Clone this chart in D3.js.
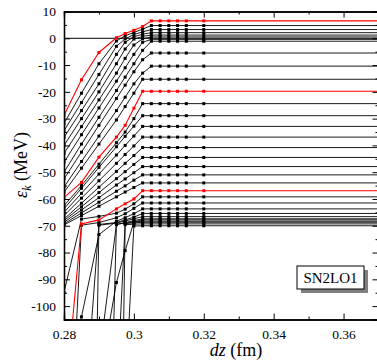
<!DOCTYPE html>
<html><head><meta charset="utf-8">
<script src="https://cdn.jsdelivr.net/npm/d3@7"></script>
<style>body{margin:0;background:#fff}svg{display:block}</style>
</head><body>
<svg id="chart" width="377" height="362"></svg>
<script>
// dz grid (fm); last column lies outside the visible window (lines continue flat)
const dzValues = [0.28,0.285,0.29,0.295,0.2975,0.30,0.3025,0.305,0.3075,0.31,0.3125,0.315,0.32,0.40];
const markerCount = 13; // markers drawn for the first 13 columns

// Group A: levels reaching their plateau at dz = 0.305 (values before plateau, then plateau)
const riseA = [
  [-28.8,-15.5,-5.3,0.2,1.8,3.0,4.4],
  [-31.8,-20.5,-9.5,-1.0,0.9,2.2,3.4],
  [-34.5,-24.0,-13.5,-3.0,-0.2,1.4,2.4],
  [-37.0,-27.0,-17.0,-6.0,-1.5,0.6,1.5],
  [-40.0,-30.0,-20.0,-9.5,-4.0,-0.3,0.7],
  [-43.0,-33.0,-23.0,-13.0,-7.5,-2.5,-0.2],
  [-46.3,-36.0,-26.0,-16.0,-11.0,-6.0,-1.5],
  [-50.0,-39.5,-29.5,-19.5,-14.5,-9.5,-4.5],
  [-52.5,-42.5,-32.5,-22.5,-17.5,-12.5,-8.0],
  [-55.5,-46.0,-36.5,-27.0,-22.0,-17.0,-13.0],
  [-57.5,-48.5,-39.5,-30.5,-25.5,-20.5]
];
const plateauA = [6.5,4.75,3.25,2.1,1.2,0.5,-0.4,-1.1,-5.5,-10.4,-15.3];
const redA = [true,false,false,false,false,false,false,false,false,false,false];

// Group B: levels fanning out of the -60..-70 MeV bundle
const riseB = [
  [-59.4,-53.8,-44.4,-36.9,-32.5,-26.1],
  [-62.5,-55.0,-47.0,-39.0,-35.0,-30.0],
  [-63.7,-56.0,-48.2,-40.5,-36.6,-32.8],
  [-65.0,-57.9,-50.7,-43.6,-40.0,-36.5],
  [-66.2,-59.7,-53.2,-46.7,-43.4,-40.2],
  [-67.5,-61.6,-55.6,-49.7,-46.7,-43.8],
  [-68.1,-62.9,-57.6,-52.4,-49.8,-47.1],
  [-68.7,-64.1,-59.5,-54.8,-52.5,-50.2],
  [-69.3,-65.2,-61.2,-57.1,-55.1,-53.0],
  [-69.7,-66.2,-62.7,-59.2,-57.4,-55.7]
];
const plateauB = [-19.8,-24.4,-28.9,-32.9,-36.9,-40.8,-44.5,-47.9,-51.0,-54.0];
const redB = [true,false,false,false,false,false,false,false,false,false];

// Group C: deep levels coming up steeply from below
const riseC = [
  [-140,-69.3,-67.8,-63.7,-61.8,-60.0],
  [-94.9,-67.5,-66.5,-65.3,-63.8,-61.8],
  [-199,-69.8,-68.8,-67.0,-65.5,-63.5],
  [-135,-104,-73.3,-68.3,-67.0,-65.5],
  [-250,-156,-69.5,-68.8,-67.8,-66.8],
  [-600,-450,-69.8,-69.0,-68.2,-67.4],
  [-250,-190,-120,-69.6,-68.8,-68.1],
  [-250,-190,-129,-91.2,-79.3,-68.6],
  [-500,-400,-312,-69.4,-69.0,-68.6],
  [-400,-300,-200,-135.5,-69.2,-68.9],
  [-600,-500,-400,-283,-69.6,-69.4],
  [-500,-400,-300,-200,-134,-70.1]
];
const plateauC = [-56.9,-59.2,-61.5,-63.7,-65.4,-66.6,-67.4,-67.8,-68.3,-68.7,-69.3,-70.0];
const redC = [true,false,false,false,false,false,false,false,false,false,false,false];

const yMajorTicks = [10,0,-10,-20,-30,-40,-50,-60,-70,-80,-90,-100];
const yMinorTicks = [5,-5,-15,-25,-35,-45,-55,-65,-75,-85,-95,-105];
const xMajorTicks = [0.28,0.30,0.32,0.34,0.36];
const xMinorTicks = [0.29,0.31,0.33,0.35,0.37];
const legendLabel = "SN2LO1";

// ---- build series
function build(rises, plateaus, reds){
  return rises.map((r,i)=>{
    const vals = r.slice();
    while(vals.length < dzValues.length) vals.push(plateaus[i]);
    return {red: reds[i], pts: vals.map((v,j)=>({x:dzValues[j], y:v, j}))};
  });
}
const series = [].concat(build(riseA,plateauA,redA), build(riseB,plateauB,redB), build(riseC,plateauC,redC));

const svg = d3.select("#chart");
const L = 64, R = 378.5, T = 11.5, B = 319.5;
const x = d3.scaleLinear().domain([0.28,0.37]).range([L,R]);
const y = d3.scaleLinear().domain([-105,10]).range([B,T]);

svg.append("defs").append("clipPath").attr("id","clip")
  .append("rect").attr("x",L).attr("y",T).attr("width",R-L).attr("height",B-T);

const plot = svg.append("g").attr("clip-path","url(#clip)");
// zero line
plot.append("line").attr("x1",x(0.28)).attr("x2",x(0.37)).attr("y1",y(0)).attr("y2",y(0))
  .attr("stroke","#000").attr("stroke-width",1);

const line = d3.line().x(d=>x(d.x)).y(d=>y(d.y));
const ordered = series.filter(s=>!s.red).concat(series.filter(s=>s.red));
ordered.forEach(s=>{
  const col = s.red ? "#ff0000" : "#000";
  plot.append("path").datum(s.pts).attr("d",line).attr("fill","none")
    .attr("stroke",col).attr("stroke-width", s.red?1.1:0.9);
  plot.selectAll(null).data(s.pts.filter(p=>p.j<markerCount)).enter().append("rect")
    .attr("x",d=>x(d.x)-1.5).attr("y",d=>y(d.y)-1.5).attr("width",3).attr("height",3)
    .attr("fill",col);
});

const font = "Liberation Serif, DejaVu Serif, serif";
function styleAxis(g){
  g.select(".domain").attr("stroke","#000").attr("stroke-width",1.3);
  g.selectAll(".tick line").attr("stroke","#000").attr("stroke-width",1);
  g.selectAll("text").attr("font-family",font).attr("font-size",13.5).attr("fill","#000");
}
const yfmt = d=> d<0 ? "-"+Math.abs(d) : String(d);
// left
svg.append("g").attr("transform",`translate(${L},0)`)
  .call(d3.axisLeft(y).tickValues(yMajorTicks).tickSize(-6).tickPadding(8).tickFormat(yfmt)).call(styleAxis);
svg.append("g").attr("transform",`translate(${L},0)`)
  .call(d3.axisLeft(y).tickValues(yMinorTicks).tickSize(-3).tickFormat("")).call(styleAxis);
// right
svg.append("g").attr("transform",`translate(${R},0)`)
  .call(d3.axisRight(y).tickValues(yMajorTicks).tickSize(-6).tickFormat("")).call(styleAxis);
svg.append("g").attr("transform",`translate(${R},0)`)
  .call(d3.axisRight(y).tickValues(yMinorTicks).tickSize(-3).tickFormat("")).call(styleAxis);
// bottom
svg.append("g").attr("transform",`translate(0,${B})`)
  .call(d3.axisBottom(x).tickValues(xMajorTicks).tickSize(-6).tickPadding(10).tickFormat(d3.format(".2~f"))).call(styleAxis);
svg.append("g").attr("transform",`translate(0,${B})`)
  .call(d3.axisBottom(x).tickValues(xMinorTicks).tickSize(-3).tickFormat("")).call(styleAxis);
// top
svg.append("g").attr("transform",`translate(0,${T})`)
  .call(d3.axisTop(x).tickValues(xMajorTicks).tickSize(-6).tickFormat("")).call(styleAxis);
svg.append("g").attr("transform",`translate(0,${T})`)
  .call(d3.axisTop(x).tickValues(xMinorTicks).tickSize(-3).tickFormat("")).call(styleAxis);

// axis titles
const xt = svg.append("text").attr("x",236).attr("y",356).attr("text-anchor","middle")
  .attr("font-family",font).attr("font-size",18);
xt.append("tspan").attr("font-style","italic").text("dz");
xt.append("tspan").text(" (fm)");
const yt = svg.append("text").attr("transform","translate(27,165) rotate(-90)").attr("text-anchor","middle")
  .attr("font-family",font).attr("font-size",18);
yt.append("tspan").attr("font-style","italic").text("ε");
yt.append("tspan").attr("font-style","italic").attr("font-size",12).attr("dy",4).text("k");
yt.append("tspan").attr("dy",-4).text(" (MeV)");

// legend
const lg = svg.append("g");
lg.append("rect").attr("x",301).attr("y",270).attr("width",67).attr("height",23).attr("fill","#808080");
lg.append("rect").attr("x",297).attr("y",266).attr("width",67).attr("height",23).attr("fill","#fff")
  .attr("stroke","#000").attr("stroke-width",1);
lg.append("text").attr("x",330.5).attr("y",283).attr("text-anchor","middle")
  .attr("font-family",font).attr("font-size",15).text(legendLabel);
</script>
</body></html>
